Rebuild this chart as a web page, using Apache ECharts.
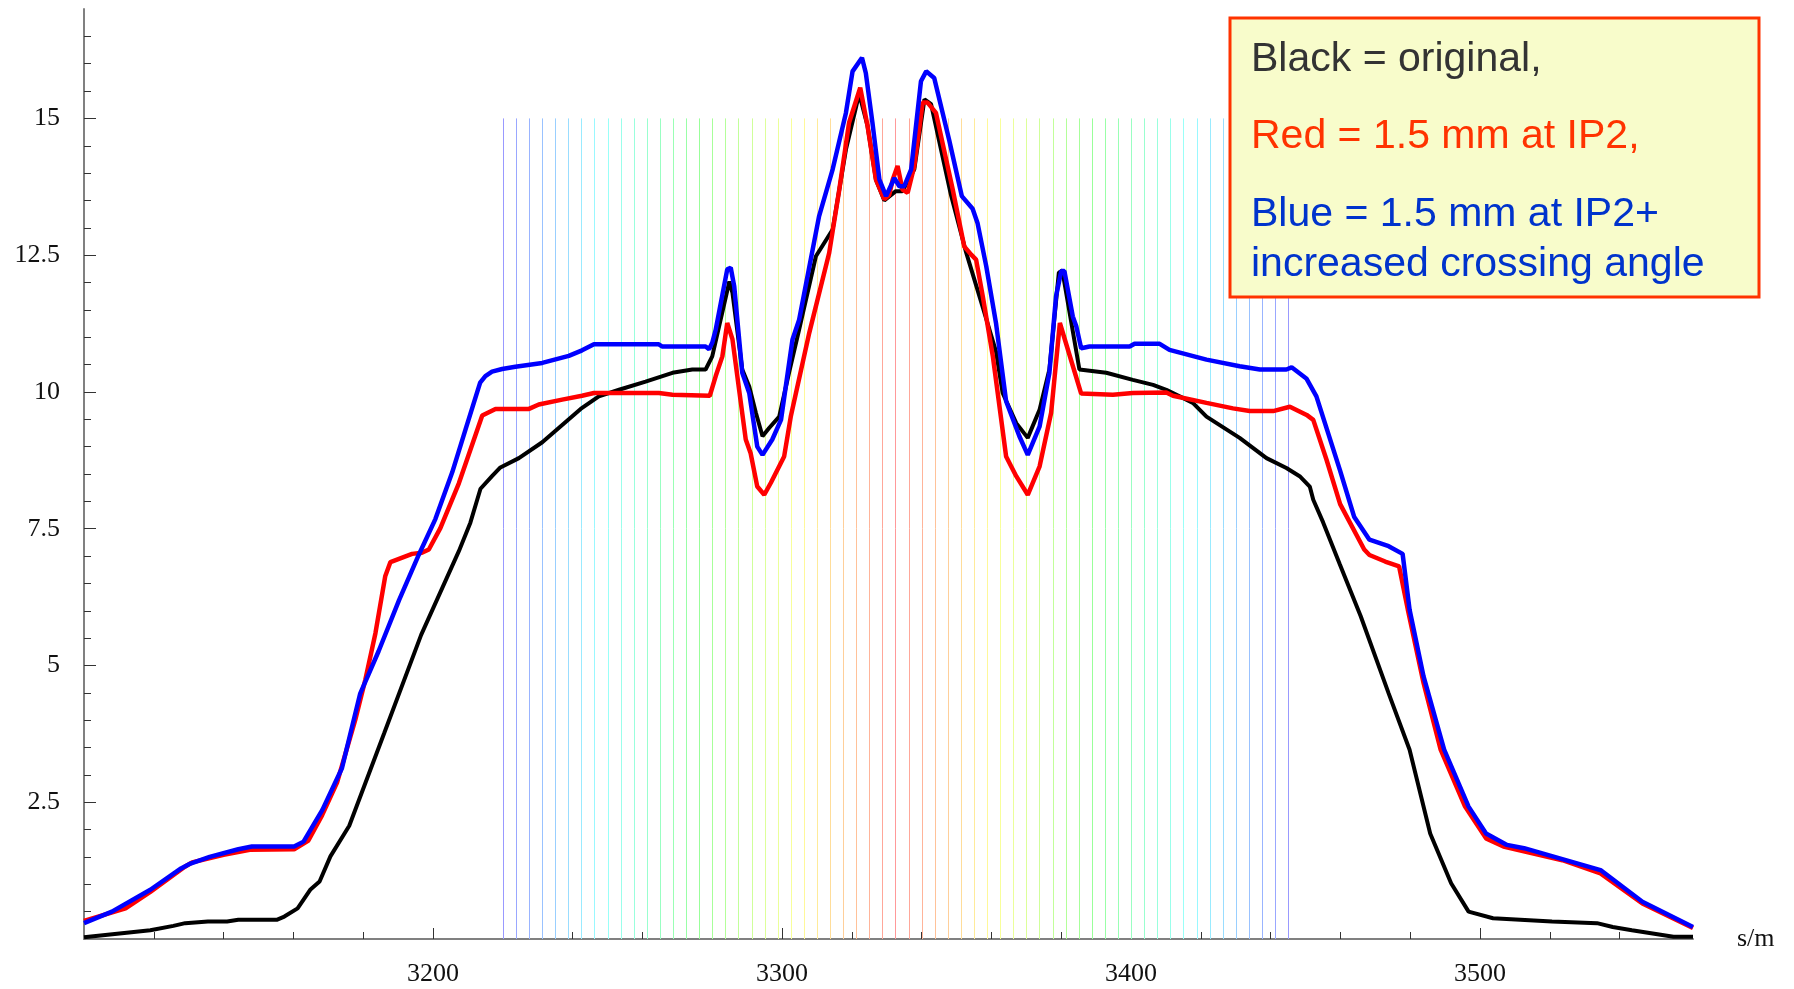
<!DOCTYPE html>
<html>
<head>
<meta charset="utf-8">
<title>Beam separation along s</title>
<script src="https://cdn.jsdelivr.net/npm/echarts@6.0.0/dist/echarts.min.js"></script>
<style>
  html, body { margin: 0; padding: 0; background: #ffffff; }
  #chart { width: 1794px; height: 989px; }
</style>
</head>
<body>
<div id="chart"></div>
<script>
// Axis ranges and tick positions
const X_MIN = 3100, X_MAX = 3561;
const Y_MIN = 0, Y_MAX = 17;
const xMajorTicks = [3200, 3300, 3400, 3500];
const xMinorTicks = [3120, 3140, 3160, 3180, 3220, 3240, 3260, 3280, 3320, 3340, 3360, 3380,
                     3420, 3440, 3460, 3480, 3520, 3540];
const yMajorTicks = [2.5, 5, 7.5, 10, 12.5, 15];
const yMinorTicks = [0.5, 1, 1.5, 2, 3, 3.5, 4, 4.5, 5.5, 6, 6.5, 7, 8, 8.5, 9, 9.5,
                     10.5, 11, 11.5, 12, 13, 13.5, 14, 14.5, 15.5, 16, 16.5];

// Element markers (s positions) and their height
const markerS = [3220.00, 3223.75, 3227.50, 3231.25, 3235.00, 3238.75, 3242.50, 3246.25, 3250.00,
  3253.75, 3257.50, 3261.25, 3265.00, 3268.75, 3272.50, 3276.25, 3280.00, 3283.75, 3287.50,
  3291.25, 3295.00, 3298.75, 3302.50, 3306.25, 3310.00, 3313.75, 3317.50, 3321.25, 3325.00,
  3328.75, 3332.50, 3336.25, 3340.00, 3343.75, 3347.50, 3351.25, 3355.00, 3358.75, 3362.50,
  3366.25, 3370.00, 3373.75, 3377.50, 3381.25, 3385.00, 3388.75, 3392.50, 3396.25, 3400.00,
  3403.75, 3407.50, 3411.25, 3415.00, 3418.75, 3422.50, 3426.25, 3430.00, 3433.75, 3437.50,
  3441.25, 3445.00];
const markerTop = 15;

// Curves: [s in m, value]
const blackOriginal = [
  [3100,0.03],[3119,0.16],[3125.6,0.24],[3129,0.29],[3135.5,0.32],[3141,0.32],[3144.2,0.35],
  [3155.2,0.35],[3157.4,0.41],[3161.2,0.56],[3164.8,0.9],[3167.5,1.05],[3170.6,1.51],[3176,2.07],
  [3186,3.76],[3196.6,5.56],[3207.4,7.09],[3210.7,7.61],[3213.6,8.23],[3216.9,8.46],[3219.3,8.62],
  [3224.6,8.79],[3231.3,9.08],[3242.3,9.69],[3247.5,9.92],[3253.3,10.04],[3260.9,10.19],
  [3268.6,10.35],[3274.3,10.41],[3278.1,10.41],[3280,10.65],[3284.9,12.02],[3285.8,11.81],
  [3288.6,10.41],[3290.6,10.1],[3292.5,9.62],[3294.4,9.19],[3296.3,9.34],[3299.2,9.55],
  [3302,10.35],[3304.9,11.14],[3309.7,12.48],[3314.5,12.97],[3318.3,14.43],[3322.1,15.45],
  [3324.5,14.86],[3326.9,13.88],[3329.3,13.5],[3332.6,13.67],[3334.5,13.67],[3337.9,14.07],
  [3340.8,15.35],[3342.7,15.26],[3348.4,13.6],[3352.7,12.56],[3357.5,11.55],[3361.3,10.74],
  [3363.2,9.98],[3367.1,9.43],[3370.4,9.16],[3373.8,9.68],[3376.6,10.41],[3379.3,12.18],
  [3380.3,12.22],[3385.2,10.41],[3392.9,10.35],[3400.5,10.22],[3406.3,10.13],[3410.1,10.04],
  [3417.7,9.8],[3421.6,9.55],[3431.1,9.16],[3438.8,8.79],[3444.5,8.61],[3448.3,8.46],
  [3451.2,8.27],[3452.2,8.03],[3455,7.62],[3459.8,6.85],[3465.8,5.9],[3473.8,4.49],
  [3479.8,3.46],[3485.7,1.93],[3491.7,1.02],[3496.7,0.5],[3503.7,0.38],[3520.6,0.32],
  [3533.5,0.29],[3538,0.22],[3543.5,0.16],[3555.4,0.04],[3561,0.04]
];

const redIP2 = [
  [3100,0.33],[3111.9,0.56],[3119,0.86],[3128.9,1.32],[3131,1.4],[3140,1.54],[3147.5,1.63],
  [3160.2,1.64],[3164.3,1.8],[3168.2,2.26],[3172.5,2.86],[3177.7,4.0],[3180.6,4.74],
  [3183.5,5.59],[3186.3,6.63],[3187.8,6.89],[3194,7.04],[3196.8,7.06],[3198.8,7.12],
  [3202.1,7.51],[3207.4,8.33],[3214.1,9.57],[3217.9,9.69],[3227.5,9.69],[3230.3,9.77],
  [3237,9.86],[3242.7,9.93],[3246.1,9.98],[3264.7,9.98],[3268.6,9.95],[3279.3,9.93],
  [3281,10.29],[3282.9,10.65],[3284.3,11.26],[3285.8,10.96],[3287.7,10.04],[3289.6,9.13],
  [3291,8.88],[3292.9,8.27],[3294.9,8.12],[3296.8,8.34],[3300.6,8.82],[3302.5,9.55],
  [3307.8,11.08],[3313.5,12.54],[3316.4,13.7],[3319.2,14.92],[3322.4,15.56],[3324.5,14.86],
  [3326.9,13.88],[3329.3,13.52],[3330.7,13.6],[3331.7,13.88],[3333.1,14.13],[3334.5,13.7],
  [3336,13.64],[3337.9,14.13],[3340.3,15.29],[3341.7,15.29],[3344.1,15.1],[3348.9,13.7],
  [3352.2,12.66],[3354.2,12.51],[3355.6,12.42],[3357.5,11.75],[3360.4,10.65],[3364.2,8.82],
  [3367.1,8.46],[3370.4,8.12],[3373.8,8.64],[3377.1,9.62],[3379.6,11.26],[3385.7,9.97],
  [3394.8,9.95],[3400.5,9.98],[3410.1,9.99],[3412,9.93],[3421.6,9.8],[3429.2,9.7],
  [3434,9.65],[3440.7,9.65],[3445.5,9.73],[3450.3,9.58],[3452.2,9.49],[3456,8.76],
  [3459.9,7.95],[3466.8,7.12],[3468.3,7.02],[3472.8,6.9],[3476.8,6.81],[3479.3,6.02],
  [3483.8,4.68],[3488.7,3.46],[3495.7,2.42],[3501.7,1.84],[3506.7,1.69],[3523.6,1.44],
  [3534.5,1.2],[3546.5,0.65],[3561,0.2]
];

const blueIP2Crossing = [
  [3100,0.29],[3108,0.5],[3119,0.9],[3127.8,1.29],[3130.5,1.38],[3136,1.5],[3144.2,1.64],
  [3148.1,1.69],[3160.2,1.69],[3162.9,1.78],[3168.3,2.36],[3173.9,3.12],[3179.1,4.48],
  [3184.4,5.26],[3190.3,6.2],[3195.9,7.02],[3200.7,7.68],[3205.5,8.53],[3209.3,9.31],
  [3213.5,10.17],[3215,10.29],[3216.9,10.37],[3219.8,10.42],[3223.6,10.46],[3231.3,10.53],
  [3238.9,10.66],[3242.7,10.76],[3246.1,10.87],[3264.7,10.87],[3265.7,10.83],[3278.1,10.83],
  [3279.1,10.78],[3280,10.9],[3281,11.14],[3284.3,12.24],[3285.3,12.27],[3286.3,11.93],
  [3288.6,10.35],[3290.6,9.98],[3292.9,9.0],[3294.4,8.85],[3297.2,9.13],[3299.7,9.49],
  [3303,10.96],[3304.9,11.32],[3310.6,13.21],[3314.5,14.07],[3318.3,15.1],[3320.2,15.86],
  [3322.9,16.11],[3324,15.83],[3325.9,14.92],[3327.9,13.88],[3329.8,13.58],[3332.2,13.91],
  [3333.6,13.76],[3335,13.76],[3337,14.07],[3339.8,15.68],[3341.3,15.86],[3343.6,15.74],
  [3347.9,14.6],[3351.5,13.58],[3354.6,13.35],[3356,13.09],[3358.5,12.3],[3361.3,11.26],
  [3364.2,9.83],[3368,9.19],[3370.4,8.85],[3373.8,9.37],[3376.6,10.35],[3378.5,11.75],
  [3380,12.21],[3380.9,12.21],[3383.3,11.38],[3384.3,11.2],[3385.7,10.8],[3388.1,10.83],
  [3399.6,10.83],[3401,10.88],[3408.2,10.88],[3411,10.77],[3421.6,10.59],[3431.1,10.47],
  [3436.9,10.41],[3444.5,10.41],[3446,10.45],[3450.3,10.24],[3453.1,9.92],[3459.8,8.58],
  [3463.9,7.72],[3468.3,7.3],[3473.8,7.18],[3477.8,7.04],[3479.8,6.02],[3483.8,4.8],
  [3489.7,3.46],[3496.7,2.42],[3501.7,1.93],[3507.7,1.72],[3512.6,1.66],[3534.5,1.26],
  [3546.5,0.68],[3561,0.22]
];

// Legend lines
const legendLines = [
  { text: 'Black = original,', color: '#333333', y: 60 },
  { text: 'Red = 1.5 mm at IP2,', color: '#FF3300', y: 137 },
  { text: 'Blue = 1.5 mm at IP2+', color: '#0033CC', y: 215 },
  { text: 'increased crossing angle', color: '#0033CC', y: 265 }
];

const chart = echarts.init(document.getElementById('chart'), null, { renderer: 'canvas' });

const axisGray = '#808080';
const tickColor = '#333333';
const serif = '"Liberation Serif", "Times New Roman", serif';

// marker colour: blue at both ends, through green and yellow, red in the middle
const half = (markerS.length - 1) / 2;
function markerColor(i) {
  const hue = 240 * Math.abs(i - half) / half;
  return 'hsl(' + hue.toFixed(0) + ',100%,80%)';
}

const option = {
  animation: false,
  backgroundColor: '#ffffff',
  grid: { left: 84, right: 101, top: 9, bottom: 50, containLabel: false, outerBoundsMode: 'none' },
  xAxis: [
    {
      type: 'value', min: X_MIN, max: X_MAX, position: 'bottom',
      axisLine: { show: true, onZero: false, lineStyle: { color: axisGray, width: 2 } },
      axisTick: { show: true, inside: true, length: 11, customValues: xMajorTicks,
                  lineStyle: { color: tickColor, width: 1 } },
      axisLabel: { show: true, customValues: xMajorTicks, margin: 22,
                   formatter: function (v) { return String(v); },
                   fontFamily: serif, fontSize: 26, color: '#111111' },
      splitLine: { show: false },
      name: 's/m', nameLocation: 'end', nameGap: 44,
      nameTextStyle: { fontFamily: serif, fontSize: 26, color: '#111111' }
    },
    {
      type: 'value', min: X_MIN, max: X_MAX, position: 'bottom', offset: 0,
      axisLine: { show: false, onZero: false },
      axisTick: { show: true, inside: true, length: 7, customValues: xMinorTicks,
                  lineStyle: { color: tickColor, width: 1 } },
      axisLabel: { show: false },
      splitLine: { show: false }
    }
  ],
  yAxis: [
    {
      type: 'value', min: Y_MIN, max: Y_MAX, position: 'left',
      axisLine: { show: true, onZero: false, lineStyle: { color: axisGray, width: 2 } },
      axisTick: { show: true, inside: true, length: 12, customValues: yMajorTicks,
                  lineStyle: { color: tickColor, width: 1 } },
      axisLabel: { show: true, customValues: yMajorTicks, margin: 24,
                   formatter: function (v) { return String(v); },
                   fontFamily: serif, fontSize: 26, color: '#111111' },
      splitLine: { show: false }
    },
    {
      type: 'value', min: Y_MIN, max: Y_MAX, position: 'left', offset: 0,
      axisLine: { show: false, onZero: false },
      axisTick: { show: true, inside: true, length: 7, customValues: yMinorTicks,
                  lineStyle: { color: tickColor, width: 1 } },
      axisLabel: { show: false },
      splitLine: { show: false }
    }
  ],
  series: [
    {
      name: 'markers',
      type: 'custom',
      xAxisIndex: 0, yAxisIndex: 0,
      z: 1,
      silent: true,
      data: markerS.map(function (s) { return [s, markerTop]; }),
      renderItem: function (params, api) {
        const s = api.value(0);
        const p0 = api.coord([s, Y_MIN]);
        const p1 = api.coord([s, api.value(1)]);
        return {
          type: 'line',
          shape: { x1: Math.round(p0[0]) + 0.5, y1: p0[1], x2: Math.round(p1[0]) + 0.5, y2: p1[1] },
          style: { stroke: markerColor(params.dataIndex), lineWidth: 1 }
        };
      }
    },
    {
      name: 'Black = original', type: 'line', data: blackOriginal,
      xAxisIndex: 0, yAxisIndex: 0, z: 3,
      showSymbol: false, smooth: false,
      lineStyle: { color: '#000000', width: 4 }
    },
    {
      name: 'Red = 1.5 mm at IP2', type: 'line', data: redIP2,
      xAxisIndex: 0, yAxisIndex: 0, z: 4,
      showSymbol: false, smooth: false,
      lineStyle: { color: '#FF0000', width: 4.5 }
    },
    {
      name: 'Blue = 1.5 mm at IP2+ increased crossing angle', type: 'line', data: blueIP2Crossing,
      xAxisIndex: 0, yAxisIndex: 0, z: 5,
      showSymbol: false, smooth: false,
      lineStyle: { color: '#0000FF', width: 4.5 }
    }
  ],
  graphic: [
    {
      type: 'rect', z: 100,
      shape: { x: 1230, y: 18, width: 529, height: 279 },
      style: { fill: '#F8FCCB', stroke: '#FF3300', lineWidth: 3 }
    }
  ].concat(legendLines.map(function (l) {
    return {
      type: 'text', z: 101, x: 1251, y: l.y,
      style: { text: l.text, fill: l.color, fontSize: 41,
               fontFamily: '"Liberation Sans", Arial, sans-serif',
               verticalAlign: 'middle', align: 'left' }
    };
  }))
};

chart.setOption(option);
</script>
</body>
</html>
